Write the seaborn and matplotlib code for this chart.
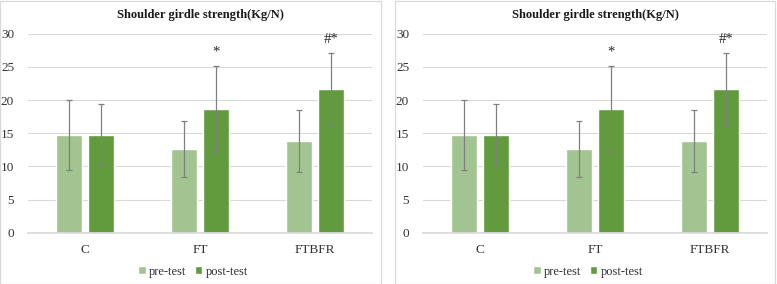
import pandas as pd
import seaborn as sns
import matplotlib.pyplot as plt
from matplotlib.patches import Rectangle

sns.set_theme(style="white")
plt.rcParams["font.family"] = ["Liberation Serif", "DejaVu Serif"]

# Data
groups = ["C", "FT", "FTBFR"]
pre_test = [14.7, 12.6, 13.8]
post_test = [14.8, 18.7, 21.7]
pre_err = [5.3, 4.2, 4.7]
post_err = [4.65, 6.5, 5.4]
marks = ["", "*", "#*"]
yticks = [0, 5, 10, 15, 20, 25, 30]

df = pd.DataFrame({
    "group": groups * 2,
    "value": pre_test + post_test,
    "err": pre_err + post_err,
    "test": ["pre-test"] * 3 + ["post-test"] * 3,
})
palette = {"pre-test": "#A2C490", "post-test": "#629B3D"}

W, H = 777, 284
fig = plt.figure(figsize=(W / 100, H / 100), dpi=100)

for off, pw in [(0, 382), (395, 381)]:
    # panel frame
    fig.patches.append(Rectangle((off / W, 0.5 / H), (pw - 1) / W, (H - 1.5) / H,
                                 transform=fig.transFigure, fill=False,
                                 edgecolor="#D9D9D9", linewidth=0.9))
    ax = fig.add_axes([(off + 28) / W, 51.3 / H, 344 / W, 199 / H])
    sns.barplot(data=df, x="group", y="value", hue="test", palette=palette,
                width=0.56, gap=0.19, saturation=1, ax=ax, legend=True,
                errorbar=None)
    ax.set_xlim(-0.5, 2.5)

    # error bars at bar centres
    bars = ax.patches[:6]
    for p, e in zip(bars, df["err"]):
        xc = p.get_x() + p.get_width() / 2
        ax.errorbar(xc, p.get_height(), yerr=e, color="#808080", lw=0.9,
                    capsize=2, capthick=0.9)

    # significance markers above post-test bars
    for p, e, m in zip(bars[3:], post_err, marks):
        if m:
            ax.text(p.get_x() + p.get_width() / 2, p.get_height() + e + 1.0, m,
                    ha="center", va="bottom", fontsize=10.5, color="#262626")

    ax.set_ylim(0, 30)
    ax.set_yticks(yticks)
    ax.yaxis.grid(True, color="#D9D9D9", lw=0.8)
    ax.set_axisbelow(True)
    for s in ["top", "right", "left"]:
        ax.spines[s].set_visible(False)
    ax.spines["bottom"].set_color("#D9D9D9")
    ax.tick_params(axis="both", length=0, labelsize=9.5, colors="#333333")
    ax.tick_params(axis="x", pad=8)
    ax.tick_params(axis="y", pad=10)
    ax.set_xlabel("")
    ax.set_ylabel("")
    ax.set_title("Shoulder girdle strength(Kg/N)", fontsize=9,
                 fontweight="bold", pad=11, color="#1a1a1a")
    ax.legend(loc="upper center", bbox_to_anchor=(0.48, -0.11), ncol=2,
              frameon=False, fontsize=9, handlelength=0.6, handleheight=0.6,
              handletextpad=0.25, columnspacing=0.7, labelcolor="#333333")

fig.savefig("out.png", dpi=100)
